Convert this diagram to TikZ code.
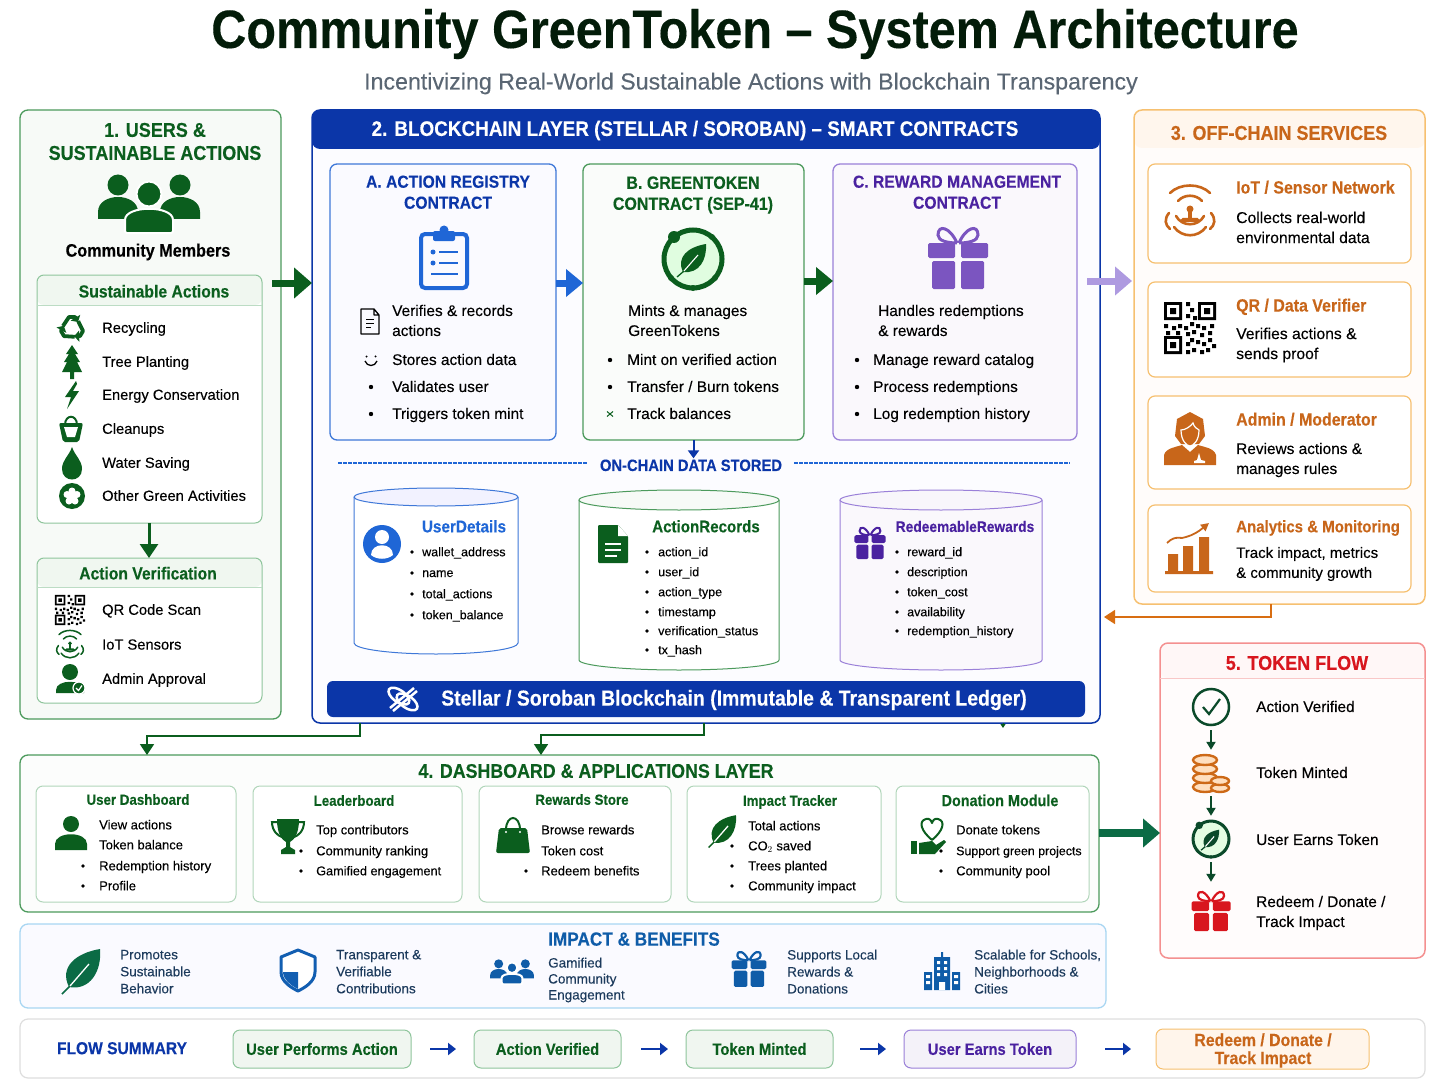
\documentclass[tikz,border=0pt]{standalone}
\usepackage{fontspec}
\setmainfont{Liberation Sans}[FakeBold=0.2,BoldFeatures={FakeStretch=0.9}]
\usetikzlibrary{shapes,arrows.meta,positioning,calc}

\definecolor{leafgreen}{HTML}{0B5E1E}
\definecolor{boxgreen}{HTML}{4C9A5C}
\definecolor{softgreen}{HTML}{8FC59C}
\definecolor{navy}{HTML}{0B36A8}
\definecolor{royal}{HTML}{1F66D6}
\definecolor{boxblue}{HTML}{3F78D8}
\definecolor{violet}{HTML}{4A22A0}
\definecolor{boxviolet}{HTML}{9A80D8}
\definecolor{giftviolet}{HTML}{7B55C0}
\definecolor{amber}{HTML}{C8661A}
\definecolor{boxamber}{HTML}{F6C070}
\definecolor{brick}{HTML}{D8161E}
\definecolor{boxred}{HTML}{F49090}
\definecolor{sky}{HTML}{A8D6F2}
\definecolor{ocean}{HTML}{0F5CA8}
\definecolor{inkblue}{HTML}{1C3A5C}
\definecolor{teal}{HTML}{0B6B45}
\definecolor{pine}{HTML}{0B4A2A}
\definecolor{slate}{HTML}{5A6673}
\newcommand{\fs}[2]{\fontsize{#1}{#2}\selectfont}

\tikzset{
    pics/peopleicon/.style={code={
        \fill[#1] (-31,-19) circle (10.5) (31,-19) circle (10.5);
        \fill[#1] (-51,15) -- (-51,8) .. controls (-51,-12) and (-11,-12) .. (-11,8) -- (-11,15) -- cycle;
        \fill[#1] (11,15) -- (11,8) .. controls (11,-12) and (51,-12) .. (51,8) -- (51,15) -- cycle;
        \filldraw[fill=#1, draw=white, line width=2pt] (0,-10) circle (12.5);
        \filldraw[fill=#1, draw=white, line width=2pt, rounded corners=2pt] (-24,29) -- (-24,18) .. controls (-24,1) and (24,1) .. (24,18) -- (24,29) -- cycle;
    }},
    pics/personicon/.style={code={
        \fill[#1] (0,-10) circle (8);
        \fill[#1] (-16,16) -- (-16,10) .. controls (-16,-3) and (16,-3) .. (16,10) -- (16,16) -- cycle;
    }},
    pics/badgeicon/.style={code={
        \fill[#1] (0,-7) circle (8);
        \fill[#1] (-14,14) -- (-14,11) .. controls (-14,0) and (14,0) .. (14,11) -- (14,14) -- cycle;
        \filldraw[fill=#1, draw=white, line width=1.2pt] (9,9) circle (6);
        \draw[white, line width=1.2pt] (6,9) -- (8.5,11.5) -- (12,6.5);
    }},
    pics/recycleicon/.style={code={
        \draw[#1, line width=3.8pt, line join=round, -{Triangle[length=5pt,width=11pt]}] (-9,-2) -- (-3,-11) -- (3,-11) -- (6,-6);
        \draw[#1, line width=3.8pt, line join=round, rotate=120, -{Triangle[length=5pt,width=11pt]}] (-9,-2) -- (-3,-11) -- (3,-11) -- (6,-6);
        \draw[#1, line width=3.8pt, line join=round, rotate=240, -{Triangle[length=5pt,width=11pt]}] (-9,-2) -- (-3,-11) -- (3,-11) -- (6,-6);
    }},
    pics/treeicon/.style={code={
        \fill[#1] (0,-17) -- (6,-8) -- (3,-8) -- (8,0) -- (5,0) -- (10,10) -- (2,10) -- (2,17) -- (-2,17) -- (-2,10) -- (-10,10) -- (-5,0) -- (-8,0) -- (-3,-8) -- (-6,-8) -- cycle;
    }},
    pics/bolticon/.style={code={
        \fill[#1] (4,-14) -- (-7,2) -- (-1,2) -- (-5,14) -- (7,-4) -- (1,-4) -- (5,-11) -- cycle;
    }},
    pics/basketicon/.style={code={
        \draw[#1, line width=2pt] (-6,-4) .. controls (-6,-15) and (6,-15) .. (6,-4);
        \fill[#1, rounded corners=2pt] (-12,-6) -- (12,-6) -- (8,13) -- (-8,13) -- cycle;
        \fill[white] (-7,-2) -- (7,-2) -- (4,8) -- (-4,8) -- cycle;
    }},
    pics/dropicon/.style={code={
        \fill[#1] (0,-16) .. controls (3,-7) and (10,-3) .. (10,6) .. controls (10,20) and (-10,20) .. (-10,6) .. controls (-10,-3) and (-3,-7) .. (0,-16) -- cycle;
    }},
    pics/blobicon/.style={code={
        \fill[#1] (0,0) circle (13);
        \fill[white] (0,0) circle (4) (0,-5) circle (3.5) (5,-1.5) circle (3.5) (3,5) circle (3.5) (-3,5) circle (3.5) (-5,-1.5) circle (3.5);
    }},
    pics/qricon/.style={code={
        \fill[#1] (-26,-26) rectangle ++(18,18) (8,-26) rectangle ++(18,18) (-26,8) rectangle ++(18,18);
        \fill[white] (-23,-23) rectangle ++(12,12) (11,-23) rectangle ++(12,12) (-23,11) rectangle ++(12,12);
        \fill[#1] (-20,-20) rectangle ++(6,6) (14,-20) rectangle ++(6,6) (-20,14) rectangle ++(6,6);
        \fill[#1] (-4,-26) rectangle ++(4,4) (0,-20) rectangle ++(4,4) (-4,-14) rectangle ++(4,4) (3,-12) rectangle ++(4,4)
            (-26,-4) rectangle ++(4,4) (-18,-2) rectangle ++(4,4) (-12,-4) rectangle ++(4,4) (-6,-2) rectangle ++(4,4)
            (0,-6) rectangle ++(4,4) (6,-4) rectangle ++(4,4) (12,-2) rectangle ++(4,4) (20,-4) rectangle ++(4,4)
            (-24,3) rectangle ++(4,4) (-14,3) rectangle ++(4,4) (-4,4) rectangle ++(4,4) (2,2) rectangle ++(4,4)
            (10,5) rectangle ++(4,4) (18,3) rectangle ++(4,4) (0,10) rectangle ++(4,4) (-4,14) rectangle ++(4,4)
            (6,12) rectangle ++(4,4) (12,14) rectangle ++(4,4) (18,10) rectangle ++(4,4) (22,16) rectangle ++(4,4)
            (2,20) rectangle ++(4,4) (-4,22) rectangle ++(4,4) (10,22) rectangle ++(4,4) (16,20) rectangle ++(4,4);
    }},
    pics/sensoricon/.style={code={
        \draw[#1, line cap=round] (-20,-19) .. controls (-10,-29) and (10,-29) .. (20,-19);
        \draw[#1, line cap=round] (-12,-11) .. controls (-6,-18) and (6,-18) .. (12,-11);
        \fill[#1] (0,-3) circle (3.5);
        \fill[#1] (-2,-1) rectangle (2,7);
        \fill[#1, rounded corners=1.5pt] (-9,6) rectangle (9,10);
        \draw[#1, line cap=round] (-14,4) .. controls (-8,15) and (8,15) .. (14,4);
        \draw[#1, line cap=round] (-16,15) .. controls (-8,26) and (8,26) .. (16,15);
        \draw[#1, line cap=round] (-21,1) .. controls (-26,7) and (-25,13) .. (-20,17);
        \draw[#1, line cap=round] (21,1) .. controls (26,7) and (25,13) .. (20,17);
    }},
    pics/clipicon/.style={code={
        \draw[#1, line width=4pt, rounded corners=4pt] (-23,-24) rectangle (23,30);
        \fill[#1, rounded corners=2pt] (-11,-27) rectangle (11,-17);
        \fill[#1] (0,-28) circle (4.5);
        \fill[#1] (-11,-6) circle (2.5) (-11,5) circle (2.5);
        \draw[#1, line width=2pt] (-5,-6) -- (14,-6) (-5,5) -- (14,5) (-13,16) -- (14,16);
    }},
    pics/docicon/.style={code={
        \draw[#1, line width=1.3pt, line join=round] (-9,-12) -- (4,-12) -- (9,-6) -- (9,13) -- (-9,13) -- cycle (4,-12) -- (4,-6) -- (9,-6);
        \draw[#1, line width=1pt] (-4,-2) -- (4,-2) (-4,2) -- (4,2) (-4,6) -- (1,6);
    }},
    pics/smileicon/.style={code={
        \draw[#1, line width=1.3pt] (-6,1) .. controls (-4,7) and (4,7) .. (6,1);
        \draw[#1, line width=1.5pt] (-5,-4) -- (-4,-3) (5,-4) -- (4,-3);
    }},
    pics/crossicon/.style={code={
        \draw[#1, line width=1pt] (-3,-2.5) -- (3,2.5) (-3,2.5) -- (3,-2.5);
    }},
    pics/leaficon/.style={code={
        \fill[#1] (-13,16) .. controls (-23,-4) and (-6,-18) .. (18,-22) .. controls (20,0) and (8,20) .. (-13,16) -- cycle;
        \draw[#1, line width=1.5pt] (-20,23) -- (-12,15);
        \draw[white, line width=1.3pt] (-12,15) -- (7,-7);
    }},
    pics/ringicon/.style={code={
        \fill[green!30!white, opacity=.35] (0,0) circle (27);
        \draw[#1] (0,0) circle (29);
        \fill[#1] (-19,-22) circle (6) (19,-22) circle (3) (-22,19) circle (3) (22,19) circle (3) (0,29) circle (3);
        \fill[#1] (-10,13) .. controls (-17,-2) and (-5,-12) .. (13,-15) .. controls (14,1) and (6,15) .. (-10,13) -- cycle;
        \draw[#1, line width=1.3pt] (-16,18) -- (-9,12);
        \draw[white, line width=1.1pt] (-9,12) -- (5,-4);
    }},
    pics/gifticon/.style={code={
        \fill[#1, rounded corners=1.5pt] (-30,-15) rectangle (-3,0) (3,-15) rectangle (30,0);
        \fill[#1, rounded corners=1.5pt] (-26,3) rectangle (-3,31) (3,3) rectangle (26,31);
        \draw[#1] (-1,-15) .. controls (-8,-31) and (-20,-34) .. (-20,-23) .. controls (-20,-17) and (-10,-15) .. (-1,-15);
        \draw[#1] (1,-15) .. controls (8,-31) and (20,-34) .. (20,-23) .. controls (20,-17) and (10,-15) .. (1,-15);
    }},
    pics/filledocicon/.style={code={
        \fill[#1, rounded corners=1pt] (-15,-19) -- (5,-19) -- (15,-8) -- (15,19) -- (-15,19) -- cycle;
        \fill[white] (5,-19) -- (15,-8) -- (5,-8) -- cycle;
        \draw[white, line width=2pt] (-8,0) -- (8,0) (-8,6) -- (8,6) (-8,12) -- (4,12);
    }},
    pics/useroundicon/.style={code={
        \fill[#1] (0,0) circle (19);
        \fill[white] (0,-7) circle (7);
        \fill[white] (-11,11) .. controls (-11,-2) and (11,-2) .. (11,11) .. controls (5,16) and (-5,16) .. (-11,11) -- cycle;
    }},
    pics/stellaricon/.style={code={
        \draw[white, line width=2.5pt, rotate=-35] (-5,0) ellipse [x radius=12, y radius=6];
        \draw[white, line width=2.5pt, rotate=-35] (5,0) ellipse [x radius=12, y radius=6];
        \draw[white, line width=2.5pt] (-13,9) -- (11,-11) (-10,12) -- (14,-8);
    }},
    pics/adminicon/.style={code={
        \fill[#1] (0,-27) -- (13,-20) -- (15,-3) -- (9,5) -- (-9,5) -- (-15,-3) -- (-13,-20) -- cycle;
        \filldraw[fill=#1, draw=white, line width=1.2pt] (-9,-9) .. controls (-5,-9) and (0,-12) .. (3,-16) .. controls (4,-12) and (7,-10) .. (9,-9) .. controls (9,2) and (3,7) .. (0,7) .. controls (-3,7) and (-9,2) .. (-9,-9) -- cycle;
        \fill[#1] (-26,26) -- (-26,16) .. controls (-24,9) and (-14,8) .. (-8,6) -- (0,13) -- (8,6) .. controls (14,8) and (24,9) .. (26,16) -- (26,26) -- cycle;
        \fill[white] (7,21) -- (9,14) -- (11,21) -- (15,22) -- (15,24) -- (4,24) -- (4,22) -- cycle;
    }},
    pics/charticon/.style={code={
        \fill[#1] (-22,6) rectangle (-12,23) (-7,-2) rectangle (3,23) (9,-11) rectangle (19,23) (-25,23) rectangle (23,26);
        \draw[#1, line width=1.8pt, -{Triangle[length=8pt,width=8pt]}] (-23,-5) .. controls (-14,-14) and (-9,-8) .. (-4,-11) .. controls (3,-13) and (8,-16) .. (19,-25);
    }},
    pics/checkicon/.style={code={
        \draw[#1, line width=2.5pt] (0,0) circle (18);
        \draw[#1, line width=2.2pt] (-8,0) -- (-2,7) -- (9,-8);
    }},
    pics/coinicon/.style={code={
        \filldraw[fill=orange!25!white, draw=#1, line width=2.4pt] (-6,14) ellipse [x radius=12, y radius=5];
        \filldraw[fill=orange!25!white, draw=#1, line width=2.4pt] (-6,5) ellipse [x radius=12, y radius=5];
        \filldraw[fill=orange!25!white, draw=#1, line width=2.4pt] (-6,-4) ellipse [x radius=12, y radius=5];
        \filldraw[fill=orange!25!white, draw=#1, line width=2.4pt] (-6,-13) ellipse [x radius=12, y radius=5];
        \filldraw[fill=orange!25!white, draw=#1, line width=2.4pt] (9,15) ellipse [x radius=9, y radius=4];
        \filldraw[fill=orange!25!white, draw=#1, line width=2.4pt] (9,8) ellipse [x radius=9, y radius=4];
    }},
    pics/trophyicon/.style={code={
        \draw[#1, line width=2pt] (-10,-14) -- (-16,-14) .. controls (-16,-5) and (-10,0) .. (-6,1);
        \draw[#1, line width=2pt] (10,-14) -- (16,-14) .. controls (16,-5) and (10,0) .. (6,1);
        \fill[#1] (-11,-17) -- (11,-17) .. controls (11,0) and (5,4) .. (2,6) -- (2,11) -- (7,14) -- (7,18) -- (-7,18) -- (-7,14) -- (-2,11) -- (-2,6) .. controls (-5,4) and (-11,0) .. (-11,-17) -- cycle;
    }},
    pics/bagicon/.style={code={
        \draw[#1, line width=2pt] (-7,-6) .. controls (-7,-22) and (7,-22) .. (7,-6);
        \fill[#1, rounded corners=2pt] (-14,-8) -- (14,-8) -- (17,17) -- (-17,17) -- cycle;
        \fill[white] (-7,-4) circle (1.2) (7,-4) circle (1.2);
    }},
    pics/handicon/.style={code={
        \draw[#1, line width=2pt, line join=round] (2,2) .. controls (-9,-7) and (-12,-17) .. (-4,-19) .. controls (-1,-20) and (1,-18) .. (2,-15) .. controls (3,-18) and (5,-20) .. (8,-19) .. controls (16,-17) and (13,-7) .. (2,2) -- cycle;
        \fill[#1] (-19,3) rectangle (-13,16);
        \fill[#1] (-11,5) -- (2,3) -- (6,7) -- (14,2) -- (16,4) -- (5,16) -- (-11,16) -- cycle;
    }},
    pics/shieldicon/.style={code={
        \filldraw[fill=white, draw=#1, line width=3pt, line join=round] (0,-20) -- (17,-13) -- (17,2) .. controls (17,12) and (6,18) .. (0,21) .. controls (-6,18) and (-17,12) .. (-17,2) -- (-17,-13) -- cycle;
        \fill[#1] (-15,2) -- (0,2) -- (0,19) .. controls (-6,16) and (-15,10) .. (-15,2) -- cycle;
    }},
    pics/cityicon/.style={code={
        \fill[#1] (-8,-14) rectangle (8,19) (-1,-19) rectangle (1,-14) (-18,1) rectangle (-10,19) (10,1) rectangle (18,19);
        \fill[white] (-5,-10) rectangle ++(3,3) (2,-10) rectangle ++(3,3) (-5,-4) rectangle ++(3,3) (2,-4) rectangle ++(3,3)
            (-5,2) rectangle ++(3,3) (2,2) rectangle ++(3,3) (-3,11) rectangle ++(6,8)
            (-16,4) rectangle ++(4,3) (-16,10) rectangle ++(4,3) (12,4) rectangle ++(4,3) (12,10) rectangle ++(4,3);
    }}
}

\begin{document}
\begin{tikzpicture}[
    x=1pt, y=-1pt,
    module/.style={draw, rounded corners=8pt, anchor=north west, inner sep=0pt, outer sep=0pt},
    card/.style={module, rounded corners=7pt, line width=1pt},
    head/.style 2 args={path picture={\fill[#1] (path picture bounding box.north west) rectangle ([yshift=-#2]path picture bounding box.north east);}},
    store/.style={line width=1pt},
    even/.style={yshift=-1pt, execute at begin node={\vphantom{Ag}}, execute at end node={\vphantom{Ag}}},
    heading/.style={even, align=center, inner sep=0pt, font=\bfseries\fs{20}{23}},
    cardtitle/.style={even, align=center, inner sep=0pt, font=\bfseries\fs{17.4}{21}},
    item/.style={even, anchor=west, align=left, inner sep=0pt, font=\fs{15.4}{20}},
    listitem/.style={item, font=\fs{14.7}{20}},
    small/.style={even, anchor=west, align=left, inner sep=0pt, font=\fs{12.5}{15}},
    tiny/.style={even, anchor=west, align=left, inner sep=0pt, font=\fs{13}{17}},
    bold/.style={even, inner sep=0pt, font=\bfseries\fs{#1}{20}},
    offtitle/.style={item, font=\bfseries\fs{#1}{20}, text=amber},
    bigarrow/.style={line width=7pt, -{Triangle[length=18pt,width=30pt]}},
    greenlink/.style={leafgreen, line width=1.8pt, -{Triangle[length=11pt,width=14pt]}},
    flowarrow/.style={pine, line width=2pt, shorten >=1pt, shorten <=1pt, -{Triangle[length=8pt,width=9pt]}},
    sumbox/.style={card, minimum height=38pt, align=center, font=\bfseries\fs{16.4}{18}},
    sumarrow/.style={navy, line width=2.2pt, -{Triangle[length=8pt,width=12pt]}}
]
    \useasboundingbox (0,0) rectangle (1448,1086);

    % Title
    \node[inner sep=0pt, font=\bfseries\fs{54}{56}, text=black!70!leafgreen] (title) at (755,34) {Community GreenToken -- System Architecture};
    \node[inner sep=0pt, font=\fs{23.2}{26}, text=slate] (subtitle) at (751,83.5) {Incentivizing Real-World Sustainable Actions with Blockchain Transparency};

    % Users and actions
    \node[module, draw=boxgreen, fill=green!40!black!3!white, line width=1.3pt, minimum width=261pt, minimum height=609pt] (users) at (20,110) {};
    \node[heading, text=leafgreen] (userstitle) at (155,142.5) {1. USERS \&\\SUSTAINABLE ACTIONS};
    \pic at (149,204) {peopleicon=leafgreen};
    \node[bold=18] (members) at (148,251) {Community Members};

    \node[card, draw=softgreen, fill=white, head={green!50!black!6!white}{30pt}, minimum width=225pt, minimum height=248pt] (actions) at (37,275) {};
    \draw[softgreen!60] (37,305) -- (262,305);
    \node[bold=17.5, text=leafgreen] (actionstitle) at (154,292) {Sustainable Actions};
    \pic at (72,328) {recycleicon=leafgreen};
    \node[listitem] (recycling) at (102,328) {Recycling};
    \pic at (72,362) {treeicon=leafgreen};
    \node[listitem] (planting) at (102,362) {Tree Planting};
    \pic at (72,395) {bolticon=leafgreen};
    \node[listitem] (energy) at (102,395) {Energy Conservation};
    \pic at (71,429) {basketicon=leafgreen};
    \node[listitem] (cleanups) at (102,429) {Cleanups};
    \pic at (72,463) {dropicon=leafgreen};
    \node[listitem] (water) at (102,463) {Water Saving};
    \pic at (72,496) {blobicon=leafgreen};
    \node[listitem] (other) at (102,496) {Other Green Activities};

    \node[card, draw=softgreen, fill=white, head={green!50!black!6!white}{29pt}, minimum width=225pt, minimum height=145pt] (verify) at (37,558) {};
    \draw[softgreen!60] (37,587) -- (262,587);
    \node[bold=17.4, text=leafgreen] (verifytitle) at (148,574) {Action Verification};
    \pic[scale=.58] at (70,610) {qricon=black};
    \node[listitem] (qrscan) at (102,610) {QR Code Scan};
    \pic[scale=.55, line width=1.5pt] at (70,645) {sensoricon=leafgreen};
    \node[listitem] (iotscan) at (102,645) {IoT Sensors};
    \pic at (70,679) {badgeicon=leafgreen};
    \node[listitem] (adminok) at (102,679) {Admin Approval};

    \draw[leafgreen, line width=3pt, -{Triangle[length=14pt,width=18pt]}] (actions.south -| 149,0) -- (verify.north -| 149,0);

    % Blockchain layer
    \node[module, draw=navy, fill=blue!1!white, line width=1.5pt, head={navy}{39pt}, minimum width=788pt, minimum height=613pt] (chain) at (312,110) {};
    \node[even, inner sep=0pt, font=\bfseries\fs{21}{24}, text=white] (chaintitle) at (695,129.5) {2. BLOCKCHAIN LAYER (STELLAR / SOROBAN) -- SMART CONTRACTS};

    % Contract A
    \node[card, draw=boxblue, fill=blue!2!white, line width=1.3pt, minimum width=226pt, minimum height=276pt] (contracta) at (330,164) {};
    \node[cardtitle, text=navy] (contractatitle) at (448,193) {A. ACTION REGISTRY\\CONTRACT};
    \pic at (444,258) {clipicon=royal};
    \pic at (370,321) {docicon=black};
    \node[item] (atext) at (392,321) {Verifies \& records\\actions};
    \pic at (371,360) {smileicon=black};
    \node[item] (astore) at (392,360) {Stores action data};
    \fill (371,387) circle (2.2) (371,414) circle (2.2);
    \node[item] (avalidate) at (392,387) {Validates user};
    \node[item] (atrigger) at (392,414) {Triggers token mint};

    % Contract B
    \node[card, draw=boxgreen, fill=green!40!black!2!white, line width=1.3pt, minimum width=221pt, minimum height=276pt] (contractb) at (583,164) {};
    \node[cardtitle, font=\bfseries\fs{17.8}{21}, text=leafgreen] (contractbtitle) at (693,194) {B. GREENTOKEN\\CONTRACT (SEP-41)};
    \pic[line width=5pt] at (693,259) {ringicon=leafgreen};
    \node[item] (btext) at (628,321) {Mints \& manages\\GreenTokens};
    \fill (610,360) circle (2.2) (610,387) circle (2.2);
    \pic at (610,414) {crossicon=leafgreen};
    \node[item] (bmint) at (627,360) {Mint on verified action};
    \node[item] (bburn) at (627,387) {Transfer / Burn tokens};
    \node[item] (btrack) at (627,414) {Track balances};

    % Contract C
    \node[card, draw=boxviolet, fill=violet!3!white, line width=1.3pt, minimum width=244pt, minimum height=276pt] (contractc) at (833,164) {};
    \node[cardtitle, text=violet] (contractctitle) at (957,193) {C. REWARD MANAGEMENT\\CONTRACT};
    \pic[line width=3pt] at (958,258) {gifticon=giftviolet};
    \node[item] (ctext) at (878,321) {Handles redemptions\\\& rewards};
    \fill (857,360) circle (2.2) (857,387) circle (2.2) (857,414) circle (2.2);
    \node[item] (ccatalog) at (873,360) {Manage reward catalog};
    \node[item] (cprocess) at (873,387) {Process redemptions};
    \node[item] (chistory) at (873,414) {Log redemption history};

    % Data stored
    \node[bold=16.4, text=navy] (stored) at (691,466) {ON-CHAIN DATA STORED};
    \draw[royal, dash pattern=on 3.5pt off 1.5pt, line width=1.2pt] (338,463) -- ([xshift=-13pt]stored.west |- 338,463);
    \draw[royal, dash pattern=on 3.5pt off 1.5pt, line width=1.2pt] ([xshift=12pt]stored.east |- 338,463) -- (1070,463);
    \draw[navy, line width=2pt, -{Triangle[length=8pt,width=11pt]}] (contractb.south) -- ([yshift=1pt]stored.north -| contractb.south);

    \draw[store, draw=boxblue, fill=white] (354,497) -- (354,643) arc[start angle=180, end angle=0, x radius=82, y radius=11] -- (518,497);
    \draw[store, draw=boxblue, fill=blue!5!white] (436,497) ellipse [x radius=82, y radius=9];
    \pic at (382,544) {useroundicon=royal};
    \node[bold=17, text=royal] (usertitle) at (464,527) {UserDetails};
    \fill (412,552) circle (1.8) (412,573) circle (1.8) (412,594) circle (1.8) (412,615) circle (1.8);
    \node[small] (wallet) at (422,552) {wallet\_address};
    \node[small] (username) at (422,573) {name};
    \node[small] (totals) at (422,594) {total\_actions};
    \node[small] (balance) at (422,615) {token\_balance};

    \draw[store, draw=boxgreen, fill=white] (579,500) -- (579,660) arc[start angle=180, end angle=0, x radius=100, y radius=10] -- (779,500);
    \draw[store, draw=boxgreen, fill=green!40!black!3!white] (679,500) ellipse [x radius=100, y radius=10];
    \pic at (613,544) {filledocicon=leafgreen};
    \node[bold=16.8, text=leafgreen] (recordtitle) at (706,527) {ActionRecords};
    \fill (647,552) circle (1.8) (647,572) circle (1.8) (647,592) circle (1.8) (647,612) circle (1.8) (647,631) circle (1.8) (647,650) circle (1.8);
    \node[small] (actionid) at (658,552) {action\_id};
    \node[small] (userid) at (658,572) {user\_id};
    \node[small] (actiontype) at (658,592) {action\_type};
    \node[small] (stamp) at (658,612) {timestamp};
    \node[small] (status) at (658,631) {verification\_status};
    \node[small] (txhash) at (658,650) {tx\_hash};

    \draw[store, draw=boxviolet, fill=violet!3!white] (840,500) -- (840,660) arc[start angle=180, end angle=0, x radius=101, y radius=10] -- (1042,500);
    \draw[store, draw=boxviolet, fill=violet!4!white] (941,500) ellipse [x radius=101, y radius=10];
    \pic[scale=.52, line width=2pt] at (870,543) {gifticon=violet};
    \node[bold=15.3, text=violet] (rewardtitle) at (965,527) {RedeemableRewards};
    \fill (897,552) circle (1.8) (897,572) circle (1.8) (897,592) circle (1.8) (897,612) circle (1.8) (897,631) circle (1.8);
    \node[small] (rewardid) at (907,552) {reward\_id};
    \node[small] (rewarddesc) at (907,572) {description};
    \node[small] (rewardcost) at (907,592) {token\_cost};
    \node[small] (rewardavail) at (907,612) {availability};
    \node[small] (rewardhist) at (907,631) {redemption\_history};

    % Ledger bar
    \node[module, rounded corners=6pt, draw=none, fill=navy, minimum width=758pt, minimum height=36pt] (ledger) at (327,681) {};
    \pic at (403,699) {stellaricon};
    \node[bold=21.6, text=white] (ledgertext) at (734,699) {Stellar / Soroban Blockchain (Immutable \& Transparent Ledger)};

    % Off-chain services
    \node[module, draw=boxamber, fill=orange!2!white, line width=1.5pt, head={orange!7!white}{38pt}, minimum width=291pt, minimum height=494pt] (offchain) at (1134,110) {};
    \node[heading, text=amber] (offchaintitle) at (1279,134) {3. OFF-CHAIN SERVICES};

    \node[card, draw=boxamber, fill=white, line width=1.2pt, minimum width=263pt, minimum height=99pt] (iotcard) at (1148,164) {};
    \pic[line width=2.6pt] at (1190,212) {sensoricon=amber};
    \node[offtitle=17.7] (iottitle) at (1236,188) {IoT / Sensor Network};
    \node[item, font=\fs{15.7}{20}] (iotbody) at (1236,228) {Collects real-world\\environmental data};

    \node[card, draw=boxamber, fill=white, line width=1.2pt, minimum width=263pt, minimum height=95pt] (qrcard) at (1148,282) {};
    \pic at (1190,328) {qricon=black};
    \node[offtitle=17.7] (qrtitle) at (1236,306) {QR / Data Verifier};
    \node[item, font=\fs{15.7}{20}] (qrbody) at (1236,344) {Verifies actions \&\\sends proof};

    \node[card, draw=boxamber, fill=white, line width=1.2pt, minimum width=263pt, minimum height=93pt] (admincard) at (1148,396) {};
    \pic at (1190,439) {adminicon=amber};
    \node[offtitle=17.7] (admintitle) at (1236,420) {Admin / Moderator};
    \node[item, font=\fs{15.4}{20}] (adminbody) at (1236,459) {Reviews actions \&\\manages rules};

    \node[card, draw=boxamber, fill=white, line width=1.2pt, minimum width=263pt, minimum height=87pt] (chartcard) at (1148,505) {};
    \pic at (1190,548) {charticon=amber};
    \node[offtitle=16.7] (charttitle) at (1236,527) {Analytics \& Monitoring};
    \node[item, font=\fs{15}{20}] (chartbody) at (1236,563) {Track impact, metrics\\\& community growth};

    % Arrows of the top row
    \coordinate (toprow) at (0,283);
    \coordinate (midrow) at (0,281);
    \coordinate (offback) at (1104,617);
    \draw[bigarrow, leafgreen] ([xshift=-9pt]users.east |- toprow) -- (chain.west |- toprow);
    \draw[bigarrow, royal, line width=7pt, -{Triangle[length=17pt,width=27pt]}] (contracta.east |- toprow) -- (contractb.west |- toprow);
    \draw[bigarrow, leafgreen, -{Triangle[length=17pt,width=27pt]}] (contractb.east |- midrow) -- (contractc.west |- midrow);
    \draw[bigarrow, boxviolet!80!white, -{Triangle[length=17pt,width=28pt]}] ([xshift=-13pt]chain.east |- midrow) -- ([xshift=-2pt]offchain.west |- midrow);
    \draw[amber!70!orange, line width=1.8pt, -{Triangle[length=11pt,width=14pt]}] ([xshift=-8.5pt]offchain.south) |- (offback);

    % Dashboard layer
    \node[module, draw=boxgreen, fill=green!40!black!1!white, line width=1.3pt, minimum width=1079pt, minimum height=157pt] (dash) at (20,755) {};
    \node[heading, font=\bfseries\fs{19.8}{22}, text=leafgreen] (dashtitle) at (596,772) {4. DASHBOARD \& APPLICATIONS LAYER};
    \draw[greenlink] ([xshift=-346pt]chain.south) -- ++(0,13) -| ([xshift=-412.5pt]dash.north);
    \draw[greenlink] ([xshift=-2pt]chain.south) -- ++(0,12) -| ([xshift=-18.5pt]dash.north);
    \draw[leafgreen, line width=1pt, -{Triangle[length=4pt,width=5pt]}] ([xshift=297pt]chain.south) -- ++(0,5);

    \node[card, draw=softgreen!70, fill=white, minimum width=200pt, minimum height=116pt] (usercard) at (36,786) {};
    \node[bold=14.8, text=leafgreen] (userdashtitle) at (138,800) {User Dashboard};
    \pic at (71,834) {personicon=leafgreen};
    \fill (83,866) circle (1.8) (83,886) circle (1.8);
    \node[tiny] (viewact) at (99,825) {View actions};
    \node[tiny] (tokbal) at (99,845) {Token balance};
    \node[tiny] (redhist) at (99,866) {Redemption history};
    \node[tiny] (profile) at (99,886) {Profile};

    \node[card, draw=softgreen!70, fill=white, minimum width=209pt, minimum height=116pt] (leadercard) at (253,786) {};
    \node[bold=14.8, text=leafgreen] (leadertitle) at (354,801) {Leaderboard};
    \pic at (288,836) {trophyicon=leafgreen};
    \fill (301,851) circle (1.8) (301,871) circle (1.8);
    \node[tiny] (topcontrib) at (316,830) {Top contributors};
    \node[tiny] (ranking) at (316,851) {Community ranking};
    \node[tiny, font=\fs{12.7}{17}] (gamified) at (316,871) {Gamified engagement};

    \node[card, draw=softgreen!70, fill=white, minimum width=192pt, minimum height=116pt] (storecard) at (479,786) {};
    \node[bold=14.8, text=leafgreen] (storetitle) at (582,800) {Rewards Store};
    \pic at (513,836) {bagicon=leafgreen};
    \fill (526,871) circle (1.8);
    \node[tiny] (browse) at (541,830) {Browse rewards};
    \node[tiny] (tokcost) at (541,851) {Token cost};
    \node[tiny] (redeem) at (541,871) {Redeem benefits};

    \node[card, draw=softgreen!70, fill=white, minimum width=194pt, minimum height=116pt] (impactcard) at (687,786) {};
    \node[bold=14.8, text=leafgreen] (impacttitle) at (790,801) {Impact Tracker};
    \pic[scale=.72] at (723,831) {leaficon=leafgreen};
    \fill (732,846) circle (1.8) (732,866) circle (1.8) (732,886) circle (1.8);
    \node[tiny] (totalact) at (748,826) {Total actions};
    \node[tiny] (cosaved) at (748,846) {CO$_2$ saved};
    \node[tiny] (trees) at (748,866) {Trees planted};
    \node[tiny] (commimpact) at (748,886) {Community impact};

    \node[card, draw=softgreen!70, fill=white, minimum width=193pt, minimum height=116pt] (donatecard) at (896,786) {};
    \node[bold=16, text=leafgreen] (donatetitle) at (1000,801) {Donation Module};
    \pic at (930,838) {handicon=leafgreen};
    \fill (941,851) circle (1.8) (941,871) circle (1.8);
    \node[tiny] (donatetok) at (956,830) {Donate tokens};
    \node[tiny, font=\fs{12.4}{17}] (support) at (956,851) {Support green projects};
    \node[tiny] (pool) at (956,871) {Community pool};

    % Token flow
    \node[module, draw=boxred, fill=red!1!white, line width=1.5pt, head={red!3!white}{35pt}, minimum width=265pt, minimum height=315pt] (flow) at (1160,643) {};
    \draw[boxred!50] (1160,678) -- (1425,678);
    \node[heading, text=brick] (flowtitle) at (1297,664) {5. TOKEN FLOW};
    \draw[bigarrow, teal, line width=8pt, -{Triangle[length=17pt,width=28pt]}] (dash.east |- 0,833) -- (flow.west |- 0,833);

    \node[minimum size=44pt, inner sep=0pt] (flowverified) at (1211,707) {};
    \node[minimum size=44pt, inner sep=0pt] (flowminted) at (1211,773) {};
    \node[minimum size=44pt, inner sep=0pt] (flowearned) at (1211,839) {};
    \node[minimum size=44pt, inner sep=0pt] (flowredeem) at (1211,905) {};
    \pic at (flowverified) {checkicon=pine};
    \pic at (flowminted) {coinicon=amber!90!orange};
    \pic[scale=.62, line width=3pt] at (flowearned) {ringicon=pine};
    \pic[scale=.65, line width=2.2pt] at (1211,911) {gifticon=brick};
    \draw[flowarrow] (flowverified) -- (flowminted);
    \draw[flowarrow] (flowminted) -- (flowearned);
    \draw[flowarrow] (flowearned) -- (flowredeem);
    \node[item] (flowtext1) at (1256,707) {Action Verified};
    \node[item] (flowtext2) at (1256,773) {Token Minted};
    \node[item] (flowtext3) at (1256,840) {User Earns Token};
    \node[item] (flowtext4) at (1256,912) {Redeem / Donate /\\Track Impact};

    % Impact and benefits
    \node[module, draw=sky, fill=blue!2!white, line width=1.3pt, minimum width=1086pt, minimum height=84pt] (benefits) at (20,924) {};
    \node[bold=19.1, text=ocean] (benefitstitle) at (634,940) {IMPACT \& BENEFITS};
    \pic at (82,971) {leaficon=teal};
    \node[tiny, font=\fs{13.5}{17}, text=inkblue] (benefit1) at (120,972) {Promotes\\Sustainable\\Behavior};
    \pic at (298,970) {shieldicon=ocean!80!royal};
    \node[tiny, font=\fs{13.5}{17}, text=inkblue] (benefit2) at (336,972) {Transparent \&\\Verifiable\\Contributions};
    \pic[scale=.43] at (512,972) {peopleicon=ocean};
    \node[tiny, font=\fs{13.5}{16}, text=inkblue] (benefit3) at (548,979) {Gamified\\Community\\Engagement};
    \pic[scale=.58, line width=2.2pt] at (749,969) {gifticon=ocean};
    \node[tiny, font=\fs{13.5}{17}, text=inkblue] (benefit4) at (787,972) {Supports Local\\Rewards \&\\Donations};
    \pic at (942,971) {cityicon=ocean};
    \node[tiny, font=\fs{13.5}{17}, text=inkblue] (benefit5) at (974,972) {Scalable for Schools,\\Neighborhoods \&\\Cities};

    % Flow summary
    \node[module, draw=black!13, fill=white, line width=1.2pt, minimum width=1405pt, minimum height=59pt] (summary) at (20,1019) {};
    \node[bold=17.3, text=navy] (summarytitle) at (122,1049) {FLOW SUMMARY};
    \node[sumbox, draw=softgreen, fill=green!40!black!6!white, text=leafgreen, minimum width=178pt] (sumaction) at (233,1030) {User Performs Action};
    \node[sumbox, draw=softgreen, fill=green!40!black!6!white, text=leafgreen, minimum width=147pt] (sumverified) at (474,1030) {Action Verified};
    \node[sumbox, draw=softgreen, fill=green!40!black!6!white, text=leafgreen, minimum width=147pt] (summinted) at (686,1030) {Token Minted};
    \node[sumbox, draw=boxviolet, fill=violet!6!white, text=violet, minimum width=172pt] (sumearned) at (904,1030) {User Earns Token};
    \node[sumbox, draw=boxamber, fill=orange!8!white, minimum width=213pt, minimum height=40pt] (sumredeem) at (1156,1029) {};
    \node[even, align=center, inner sep=0pt, font=\bfseries\fs{17.6}{18}, text=amber] (sumredeemtext) at (1263,1049.5) {Redeem / Donate /\\Track Impact};
    \draw[sumarrow, shorten <=19pt, shorten >=18pt] (sumaction) -- (sumverified);
    \draw[sumarrow, shorten <=20pt, shorten >=18pt] (sumverified) -- (summinted);
    \draw[sumarrow, shorten <=27pt, shorten >=18pt] (summinted) -- (sumearned);
    \draw[sumarrow, shorten <=29pt, shorten >=25pt] (sumearned) -- (sumredeem);
\end{tikzpicture}
\end{document}
